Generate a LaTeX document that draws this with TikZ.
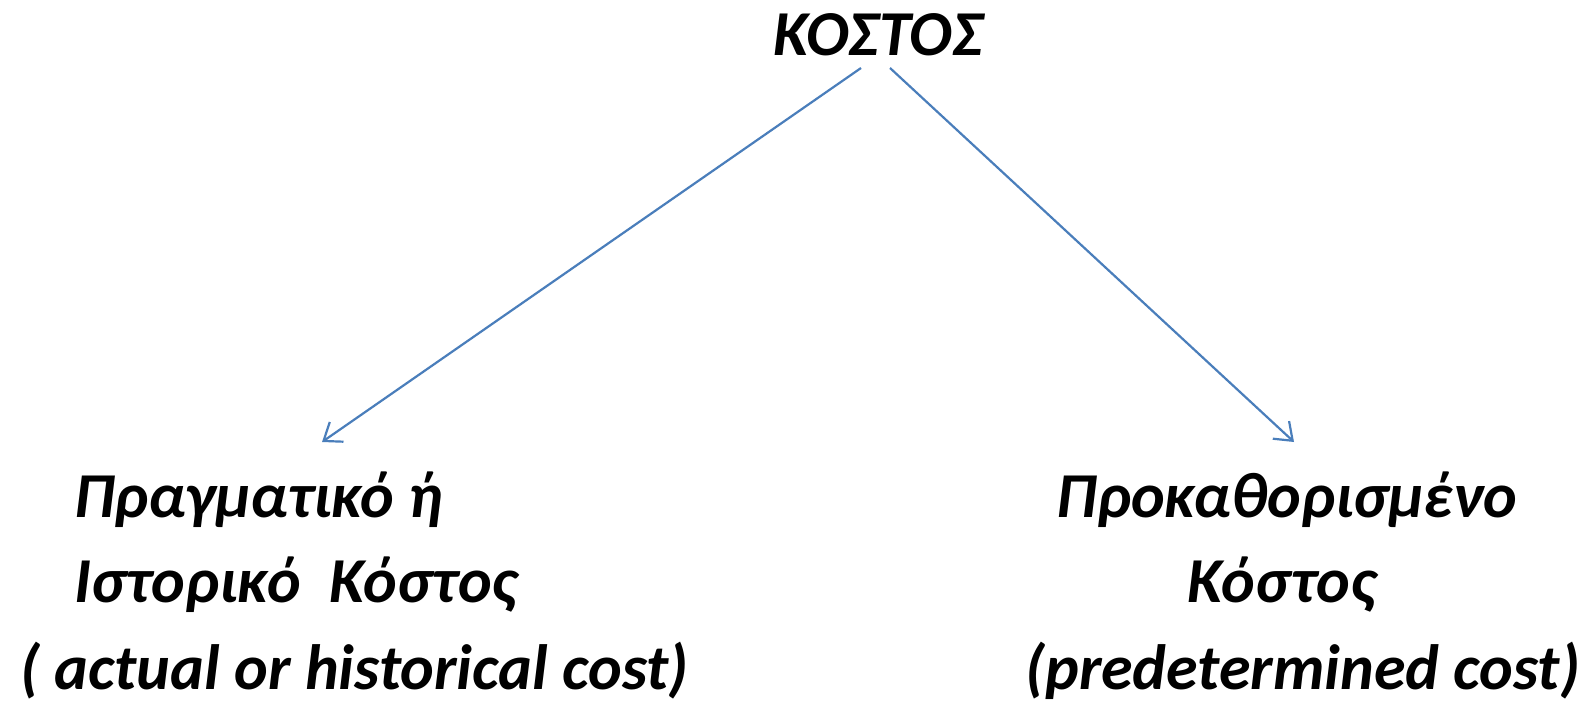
\documentclass[tikz,border=0pt]{standalone}
\usepackage{fontspec}
\setmainfont{Carlito}
\usetikzlibrary{arrows.meta}
\definecolor{linkblue}{RGB}{74,126,187}
\tikzset{label text/.style={font=\fontsize{32}{38}\selectfont\bfseries\itshape, inner sep=0pt, outer sep=0pt},
         branch/.style={draw=linkblue, line width=1.1pt, -{Straight Barb[length=8pt,width=12pt,line width=1.1pt]}}}

\begin{document}
\begin{tikzpicture}[x=0.5pt,y=-0.5pt]
  \useasboundingbox (0,0) rectangle (1588,707);
  \node[label text,anchor=base] (root) at (878,55) {ΚΟΣΤΟΣ};
  % left branch
  \node[label text,anchor=base west] (actual a) at (74,517) {Πραγματικό ή};
  \node[label text,anchor=base west] (actual b) at (74,602) {Ιστορικό\ \ Κόστος};
  \node[label text,anchor=base west] (actual c) at (20,689) {( actual or historical cost)};
  % right branch
  \node[label text,anchor=base] (predet a) at (1287,517) {Προκαθορισμένο};
  \node[label text,anchor=base] (predet b) at (1282,602) {Κόστος};
  \node[label text,anchor=base east] (predet c) at (1580,689) {(predetermined cost)};
  \coordinate (left start) at (861,68);
  \coordinate (left end) at (322,442);
  \coordinate (right start) at (890,68);
  \coordinate (right end) at (1294,442);
  \draw[branch] (left start) -- (left end);
  \draw[branch] (right start) -- (right end);
\end{tikzpicture}
\end{document}
